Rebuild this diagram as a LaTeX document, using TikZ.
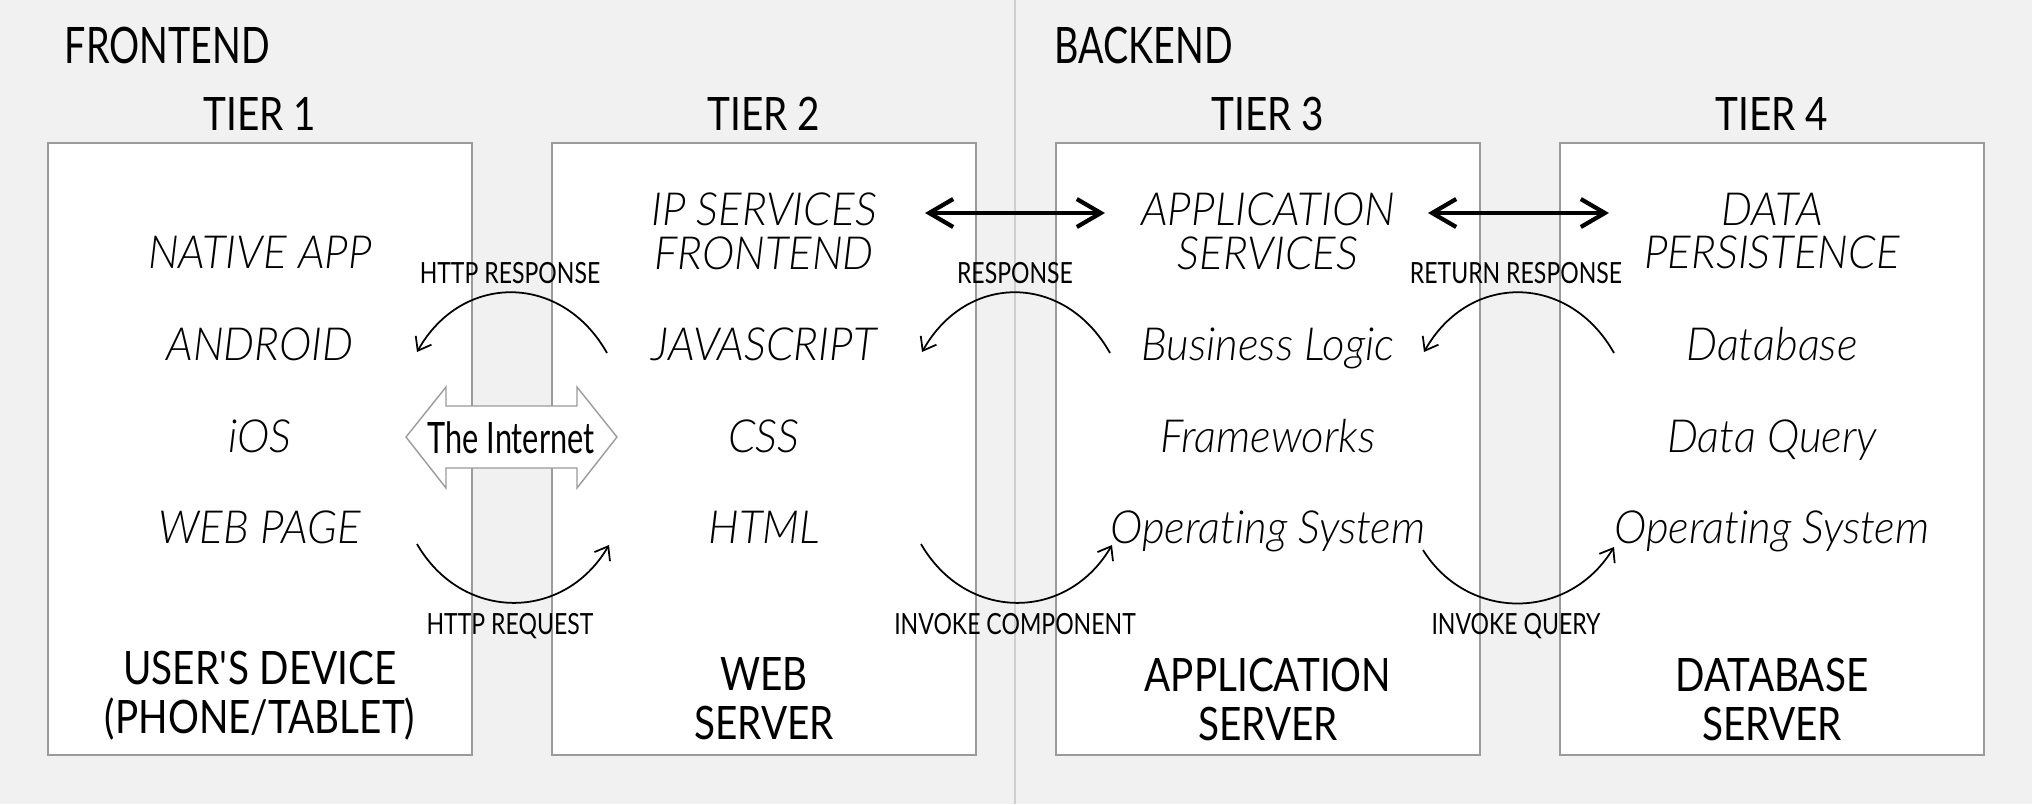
\documentclass[tikz,border=0pt]{standalone}
\usepackage{fontspec}
\setmainfont{Lato}
\IfFontExistsTF{Lato Light}%
  {\newfontfamily\thinfont{Lato Light}[FakeStretch=0.96, Ligatures=NoCommon]}%
  {\newfontfamily\thinfont{Lato}[FakeStretch=0.96, Ligatures=NoCommon]}
\newfontfamily\narrowfont{Lato}[FakeStretch=0.79]
\newfontfamily\sidefont{Lato}[FakeStretch=0.75]
\newfontfamily\tierfont{Lato}[FakeStretch=0.84]
\newfontfamily\netfont{Lato}[FakeStretch=0.71]
\usetikzlibrary{positioning,arrows.meta,calc}
\definecolor{PageBg}{HTML}{F1F1F1}
\definecolor{BoxLine}{HTML}{9B9B9B}
\definecolor{SplitLine}{HTML}{CFCFCF}

\tikzset{
  tierbox/.style={draw=BoxLine, fill=white, line width=0.4pt,
                  minimum width=42.4mm, minimum height=61.2mm, inner sep=0pt},
  sidehead/.style={font=\sidefont\fontsize{14.3}{16}\selectfont, anchor=base west, inner sep=0pt},
  tierhead/.style={font=\tierfont\fontsize{13.1}{15}\selectfont, anchor=base, inner sep=0pt},
  layer/.style={font=\thinfont\itshape\fontsize{13}{12.5}\selectfont, align=center, inner sep=0pt},
  role/.style={font=\tierfont\fontsize{13.1}{14}\selectfont, align=center, anchor=north, inner sep=0pt},
  flowlabel/.style={font=\narrowfont\fontsize{8.3}{10}\selectfont, anchor=base, inner sep=0pt},
  flow/.style={line width=0.5pt, -{Straight Barb[length=1.2mm,width=1.8mm]}},
  link/.style={line width=1.2pt,
               {Straight Barb[length=2.4mm,width=2.8mm]}-{Straight Barb[length=2.4mm,width=2.8mm]}},
}

\begin{document}
\begin{tikzpicture}[x=0.1mm, y=-0.1mm]
  % page and frontend/backend split
  \fill[PageBg] (0,0) rectangle (2032,804);
  \useasboundingbox (0,0) rectangle (2032,804);
  \draw[SplitLine, line width=0.6pt] (1015,0) -- (1015,804);

  \node[sidehead] (frontend) at (64,63) {FRONTEND};
  \node[sidehead] (backend) at (1054,63) {BACKEND};

  % tier boxes
  \node[tierbox] (tier1box) at (260,449) {};
  \node[tierbox] (tier2box) at (764,449) {};
  \node[tierbox] (tier3box) at (1268,449) {};
  \node[tierbox] (tier4box) at (1772,449) {};

  \node[tierhead] (tier1) at (260,130) {TIER 1};
  \node[tierhead] (tier2) at (764,130) {TIER 2};
  \node[tierhead] (tier3) at (1268,130) {TIER 3};
  \node[tierhead] (tier4) at (1772,130) {TIER 4};

  % tier 1
  \node[layer, anchor=base] (nativeapp) at (260,268) {NATIVE APP};
  \node[layer, anchor=base] (android) at (260,360) {ANDROID};
  \node[layer, anchor=base] (ios) at (260,452) {iOS};
  \node[layer, anchor=base] (webpage) at (260,543) {WEB PAGE};
  \node[role] (device) at (260,650) {USER\textquotesingle S DEVICE\\(PHONE/TABLET)};

  % tier 2
  \node[layer, anchor=north] (ipservices) at (764,192) {IP SERVICES\\FRONTEND};
  \node[layer, anchor=base] (javascript) at (764,360) {JAVASCRIPT};
  \node[layer, anchor=base] (css) at (764,452) {CSS};
  \node[layer, anchor=base] (html) at (764,543) {HTML};
  \node[role] (webserver) at (764,657) {WEB\\SERVER};

  % tier 3
  \node[layer, anchor=north] (appservices) at (1268,192) {APPLICATION\\SERVICES};
  \node[layer, anchor=base] (bizlogic) at (1268,360) {Business Logic};
  \node[layer, anchor=base] (frameworks) at (1268,452) {Frameworks};
  \node[layer, anchor=base] (appos) at (1268,543) {Operating System};
  \node[role] (appserver) at (1268,657) {APPLICATION\\SERVER};

  % tier 4
  \node[layer, anchor=north] (persistence) at (1772,192) {DATA\\PERSISTENCE};
  \node[layer, anchor=base] (database) at (1772,360) {Database};
  \node[layer, anchor=base] (dataquery) at (1772,452) {Data Query};
  \node[layer, anchor=base] (dbos) at (1772,543) {Operating System};
  \node[role] (dbserver) at (1772,657) {DATABASE\\SERVER};

  % the internet
  \draw[BoxLine, fill=white, line width=0.4pt]
    (406,437) -- (446,387) -- (446,406) -- (577,406) -- (577,387) -- (617,437)
    -- (577,488) -- (577,468) -- (446,468) -- (446,488) -- cycle;
  \node[font=\netfont\fontsize{12.3}{14}\selectfont, anchor=base, inner sep=0pt] (internet) at (511,453) {The Internet};

  % service links
  \coordinate (ipservices-r) at (925,213);
  \coordinate (appservices-l) at (1105,213);
  \coordinate (appservices-r) at (1428,213);
  \coordinate (persistence-l) at (1609,213);
  \draw[link] (ipservices-r) -- (appservices-l);
  \draw[link] (appservices-r) -- (persistence-l);

  % request / response curves
  \coordinate (resp1a) at (607,353);  \coordinate (resp1b) at (417,352);
  \coordinate (resp2a) at (1110,353); \coordinate (resp2b) at (922,352);
  \coordinate (resp3a) at (1614,353); \coordinate (resp3b) at (1424,352);
  \coordinate (req1a) at (417,544);   \coordinate (req1b) at (609,545);
  \coordinate (req2a) at (921,544);   \coordinate (req2b) at (1112,545);
  \coordinate (req3a) at (1423,550);  \coordinate (req3b) at (1614,547);

  \draw[flow] (resp1a) .. controls +(-45,-80) and +(45,-80) .. (resp1b);
  \draw[flow] (resp2a) .. controls +(-45,-80) and +(45,-80) .. (resp2b);
  \draw[flow] (resp3a) .. controls +(-45,-80) and +(45,-80) .. (resp3b);
  \draw[flow] (req1a) .. controls +(45,78) and +(-45,77) .. (req1b);
  \draw[flow] (req2a) .. controls +(45,78) and +(-45,77) .. (req2b);
  \draw[flow] (req3a) .. controls +(45,72) and +(-45,74) .. (req3b);

  \node[flowlabel] (httpresp) at (510,283) {HTTP RESPONSE};
  \node[flowlabel] (httpreq) at (510,634) {HTTP REQUEST};
  \node[flowlabel] (response) at (1015,283) {RESPONSE};
  \node[flowlabel] (invokecomp) at (1015,634) {INVOKE COMPONENT};
  \node[flowlabel] (retresponse) at (1516,283) {RETURN RESPONSE};
  \node[flowlabel] (invokequery) at (1516,634) {INVOKE QUERY};
\end{tikzpicture}
\end{document}
